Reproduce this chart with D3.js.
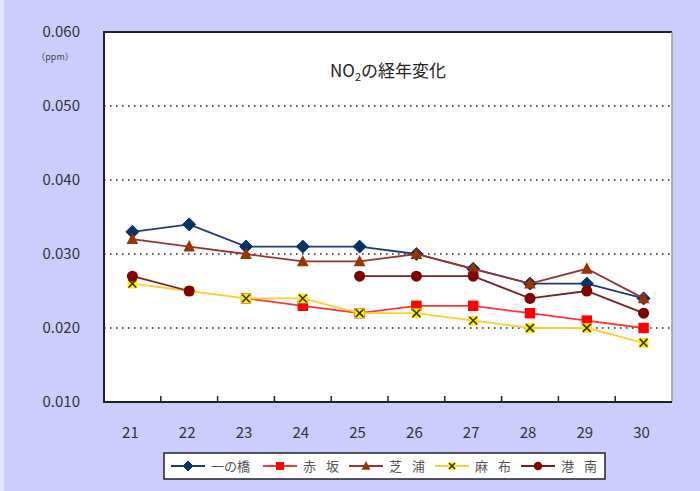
<!DOCTYPE html>
<html>
<head>
<meta charset="utf-8">
<script src="https://cdn.jsdelivr.net/npm/d3@7"></script>
<style>
  body { margin: 0; background: #ccccff; }
  text { font-family: "Noto Sans CJK JP", "Noto Sans", sans-serif; }
</style>
</head>
<body>
<div id="chart"></div>
<script>
const width = 700,
      height = 491;

const margin = {top: 32, right: 28, bottom: 89, left: 104};

// years (平成)
const years = ["21", "22", "23", "24", "25", "26", "27", "28", "29", "30"];
const yTicks = [0.010, 0.020, 0.030, 0.040, 0.050, 0.060];

const ichinohashi = [0.033, 0.034, 0.031, 0.031, 0.031, 0.030, 0.028, 0.026, 0.026, 0.024];
const akasaka     = [null, null, 0.024, 0.023, 0.022, 0.023, 0.023, 0.022, 0.021, 0.020];
const shibaura    = [0.032, 0.031, 0.030, 0.029, 0.029, 0.030, 0.028, 0.026, 0.028, 0.024];
const azabu       = [0.026, 0.025, 0.024, 0.024, 0.022, 0.022, 0.021, 0.020, 0.020, 0.018];
const konan       = [0.027, 0.025, null, null, 0.027, 0.027, 0.027, 0.024, 0.025, 0.022];

const series = [
  {name: "一の橋", values: ichinohashi, line: "#1f3a7a", fill: "#003366", shape: "diamond"},
  {name: "赤 坂", values: akasaka, line: "#ff3333", fill: "#ff0000", shape: "square"},
  {name: "芝 浦", values: shibaura, line: "#993333", fill: "#993300", shape: "triangle"},
  {name: "麻 布", values: azabu, line: "#ffcc33", fill: "#ffee00", shape: "cross"},
  {name: "港 南", values: konan, line: "#7a1f1f", fill: "#800000", shape: "circle"}
];

const svg = d3.select("#chart")
  .append("svg")
    .attr("width", width)
    .attr("height", height);

// light strip on left edge
svg.append("rect").attr("x", 0).attr("y", 0).attr("width", 4).attr("height", height).attr("fill", "#e4e4ff");

const x = d3.scaleBand()
  .domain(years)
  .range([margin.left, width - margin.right]);

const y = d3.scaleLinear()
  .domain([0.010, 0.060])
  .range([height - margin.bottom, margin.top]);

// plot area
svg.append("rect")
  .attr("x", margin.left)
  .attr("y", margin.top)
  .attr("width", width - margin.left - margin.right)
  .attr("height", height - margin.top - margin.bottom)
  .attr("fill", "white");

// grid
svg.append("g")
  .selectAll("line")
  .data(yTicks.filter(d => d > 0.011 && d < 0.059))
  .join("line")
    .attr("x1", margin.left)
    .attr("x2", width - margin.right)
    .attr("y1", d => y(d))
    .attr("y2", d => y(d))
    .attr("stroke", "#222")
    .attr("stroke-width", 1.3)
    .attr("stroke-dasharray", "1.5,4.5");

// borders
svg.append("line")
  .attr("x1", margin.left).attr("x2", width - margin.right)
  .attr("y1", margin.top).attr("y2", margin.top)
  .attr("stroke", "#222").attr("stroke-width", 2);
svg.append("line")
  .attr("x1", width - margin.right).attr("x2", width - margin.right)
  .attr("y1", margin.top).attr("y2", height - margin.bottom)
  .attr("stroke", "#999").attr("stroke-width", 1.5);

// x axis with inward ticks at category boundaries
const xAxis = svg.append("g")
  .attr("transform", `translate(0,${height - margin.bottom})`);
xAxis.append("line")
  .attr("x1", margin.left).attr("x2", width - margin.right)
  .attr("stroke", "#222").attr("stroke-width", 2);
xAxis.selectAll("line.tick")
  .data(years.slice(1))
  .join("line")
    .attr("class", "tick")
    .attr("x1", d => x(d)).attr("x2", d => x(d))
    .attr("y1", 0).attr("y2", -6)
    .attr("stroke", "#222").attr("stroke-width", 1.5);
xAxis.selectAll("text")
  .data(years)
  .join("text")
    .attr("x", d => x(d) + x.bandwidth() / 2 - 2)
    .attr("y", 36)
    .attr("text-anchor", "middle")
    .attr("font-size", 15)
    .attr("fill", "#333")
    .text(d => d);

// y axis
svg.append("line")
  .attr("x1", margin.left).attr("x2", margin.left)
  .attr("y1", margin.top - 1).attr("y2", height - margin.bottom + 1)
  .attr("stroke", "#222").attr("stroke-width", 2);
svg.append("g")
  .selectAll("text")
  .data(yTicks)
  .join("text")
    .attr("x", 80)
    .attr("y", d => y(d) + 5)
    .attr("text-anchor", "end")
    .attr("font-size", 15)
    .attr("fill", "#333")
    .text(d => d3.format(".3f")(d));

svg.append("text")
  .attr("x", 55).attr("y", 60)
  .attr("text-anchor", "middle")
  .attr("font-size", 9)
  .attr("fill", "#444")
  .text("（ppm）");

// title
const title = svg.append("text")
  .attr("x", 388).attr("y", 77)
  .attr("text-anchor", "middle")
  .attr("font-size", 17)
  .attr("fill", "#222");
title.append("tspan").text("NO");
title.append("tspan").attr("font-size", 11).attr("dy", 4).text("2");
title.append("tspan").attr("dy", -4).text("の経年変化");

function drawMarker(g, shape, fill, s) {
  if (shape === "diamond") {
    g.append("path").attr("d", `M0,${-s}L${s},0L0,${s}L${-s},0Z`).attr("fill", fill).attr("stroke", "#1a2f66");
  } else if (shape === "square") {
    g.append("rect").attr("x", -s * 0.8).attr("y", -s * 0.8).attr("width", s * 1.6).attr("height", s * 1.6).attr("fill", fill);
  } else if (shape === "triangle") {
    g.append("path").attr("d", `M0,${-s}L${s * 0.9},${s * 0.75}L${-s * 0.9},${s * 0.75}Z`).attr("fill", fill);
  } else if (shape === "cross") {
    g.append("rect").attr("x", -s * 0.75).attr("y", -s * 0.75).attr("width", s * 1.5).attr("height", s * 1.5).attr("fill", fill);
    g.append("path").attr("d", `M${-s * 0.6},${-s * 0.6}L${s * 0.6},${s * 0.6}M${s * 0.6},${-s * 0.6}L${-s * 0.6},${s * 0.6}`)
      .attr("stroke", "#333300").attr("stroke-width", 1.6);
  } else {
    g.append("circle").attr("r", s * 0.85).attr("fill", fill);
  }
}

const line = d3.line()
  .defined(d => d.v !== null)
  .x(d => x(d.year) + x.bandwidth() / 2)
  .y(d => y(d.v));

series.forEach(s => {
  const pts = years.map((yr, i) => ({year: yr, v: s.values[i]}));
  svg.append("path")
    .datum(pts)
    .attr("fill", "none")
    .attr("stroke", s.line)
    .attr("stroke-width", 1.8)
    .attr("d", line);
  svg.append("g")
    .selectAll("g")
    .data(pts.filter(d => d.v !== null))
    .join("g")
      .attr("transform", d => `translate(${x(d.year) + x.bandwidth() / 2},${y(d.v)})`)
      .each(function() { drawMarker(d3.select(this), s.shape, s.fill, 6.5); });
});

// legend
const legend = svg.append("g").attr("transform", "translate(164,453)");
legend.append("rect")
  .attr("width", 441).attr("height", 26)
  .attr("fill", "white")
  .attr("stroke", "#222").attr("stroke-width", 1.5);

const itemW = [92, 86, 86, 86, 86];
let lx = 7;
series.forEach((s, i) => {
  const g = legend.append("g").attr("transform", `translate(${lx},13)`);
  g.append("line").attr("x1", 0).attr("x2", 34).attr("stroke", s.line).attr("stroke-width", 1.8);
  const m = g.append("g").attr("transform", "translate(17,0)");
  drawMarker(m, s.shape, s.fill, 5);
  g.append("text")
    .attr("x", 40).attr("y", 5)
    .attr("font-size", 13)
    .attr("word-spacing", 7)
    .attr("fill", "#555")
    .text(s.name);
  lx += itemW[i];
});
</script>
</body>
</html>
